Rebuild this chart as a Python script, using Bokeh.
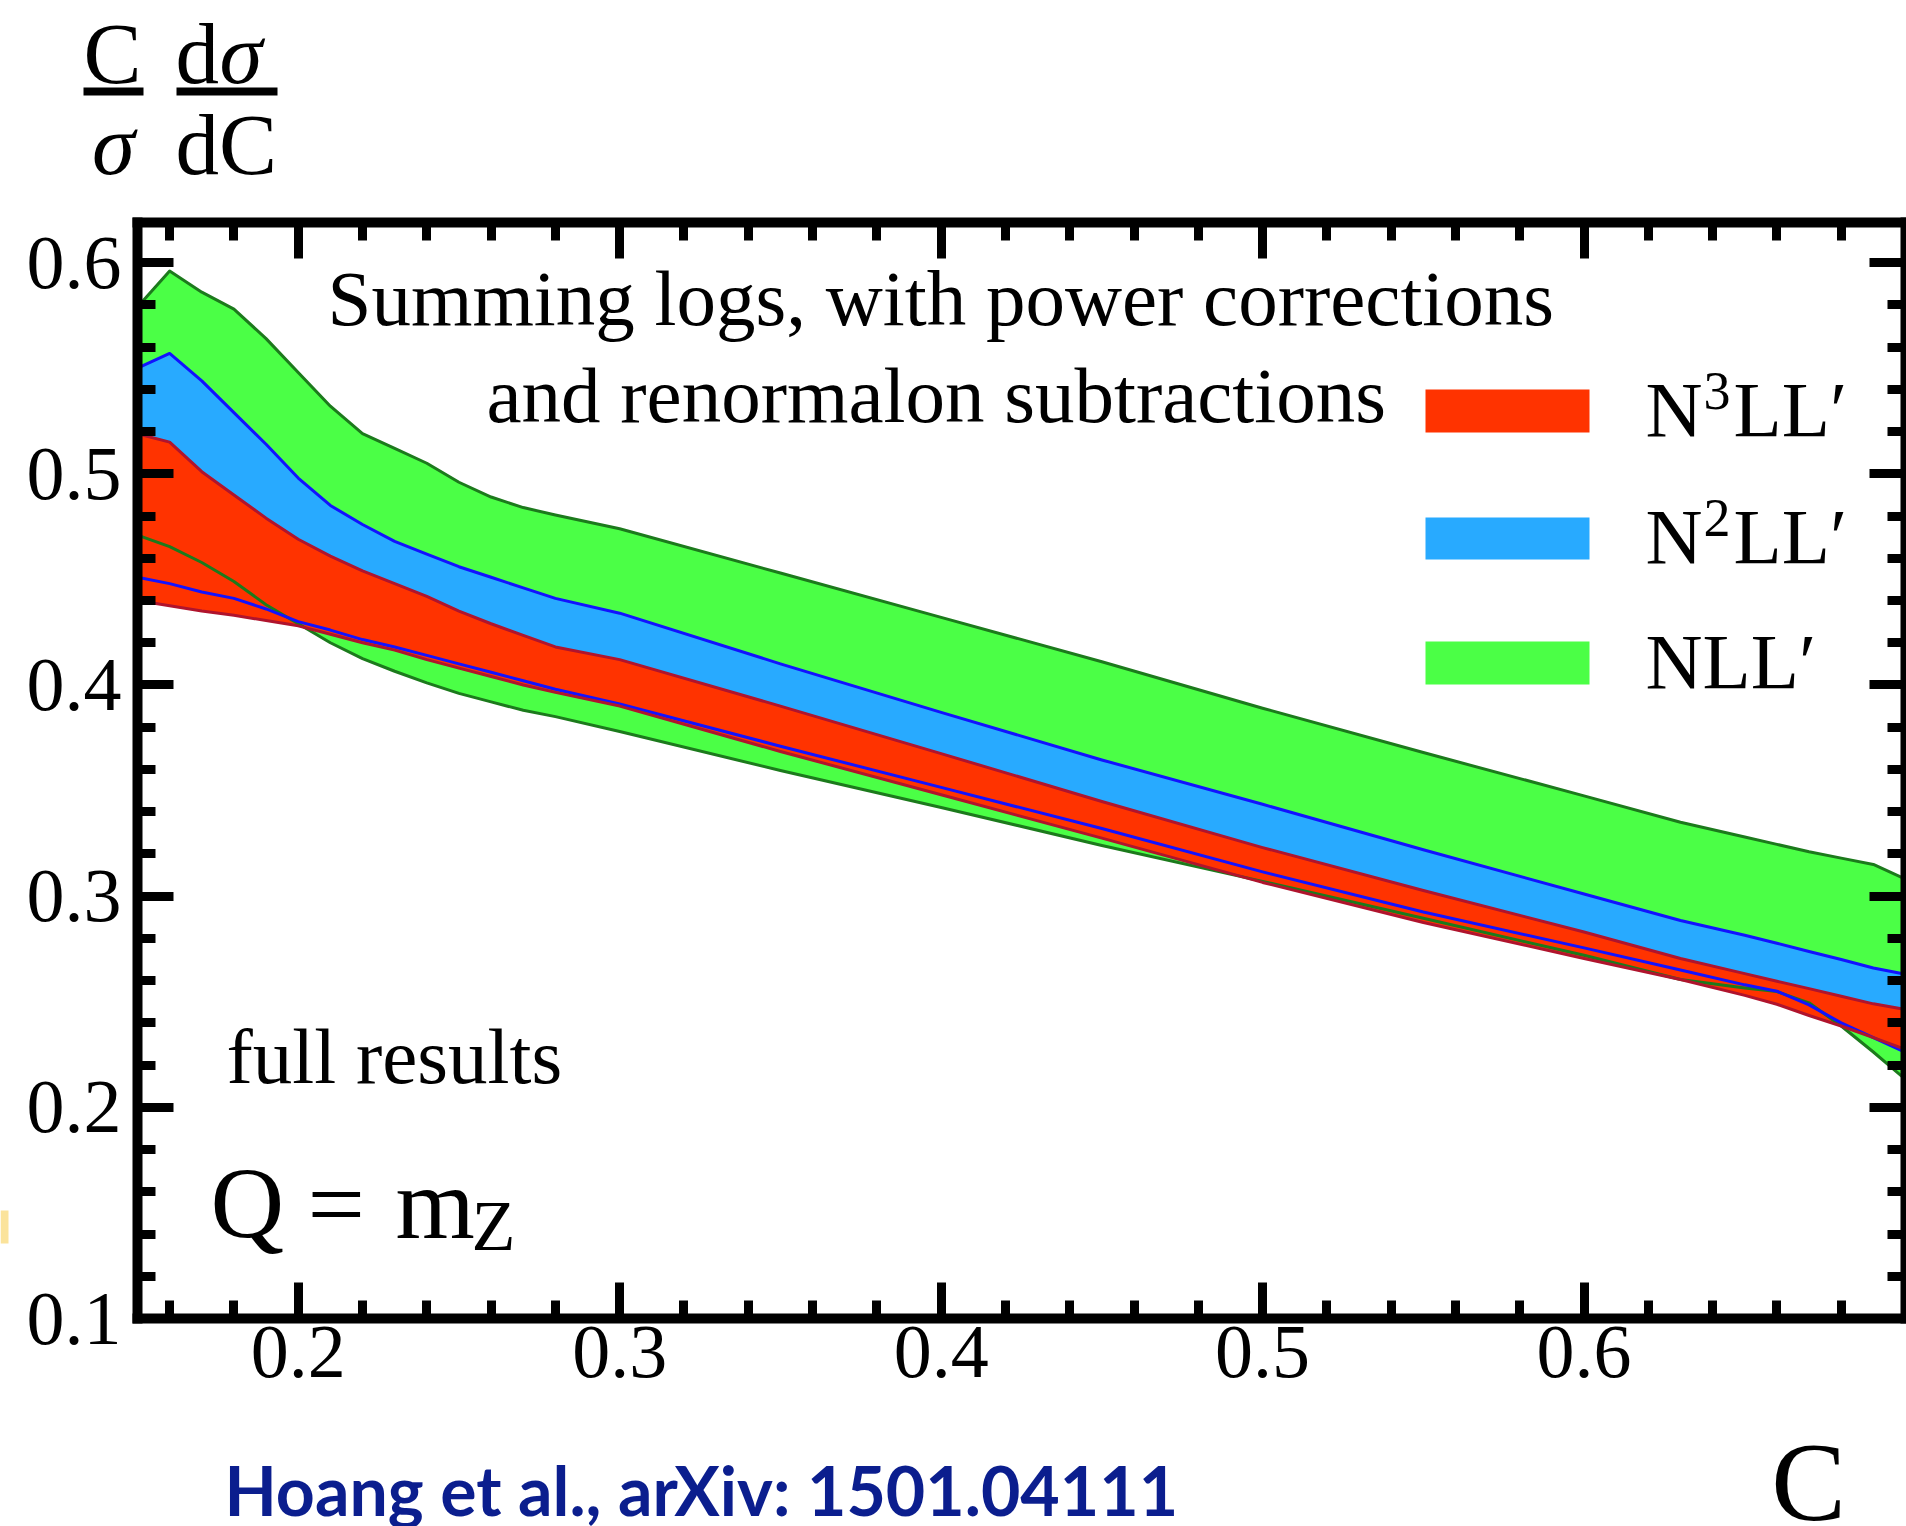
from bokeh.plotting import figure
from bokeh.models import LinearAxis, FixedTicker, Label, BoxAnnotation, Range1d
from bokeh.embed import file_html
from bokeh.resources import INLINE

# ---- data: C-parameter distribution bands (upper / lower edges) ----
c_vals = [0.15, 0.16, 0.17, 0.18, 0.19, 0.20, 0.21, 0.22, 0.23, 0.24, 0.25, 0.26, 0.27, 0.28,
          0.30, 0.35, 0.40, 0.45, 0.50, 0.55, 0.60, 0.63, 0.65, 0.66, 0.67, 0.68, 0.69, 0.70]

nll_hi = [0.579, 0.596, 0.586, 0.578, 0.564, 0.548, 0.532, 0.519, 0.512, 0.505, 0.496, 0.489, 0.484, 0.4805,
          0.474, 0.453, 0.432, 0.411, 0.389, 0.368, 0.3475, 0.335, 0.328, 0.3245, 0.321, 0.318, 0.315, 0.308]
nll_lo = [0.471, 0.4655, 0.458, 0.449, 0.438, 0.429, 0.420, 0.4125, 0.4065, 0.401, 0.396, 0.392, 0.388, 0.385,
          0.378, 0.3595, 0.342, 0.324, 0.307, 0.2895, 0.272, 0.2605, 0.2565, 0.2548, 0.2495, 0.2385, 0.2262, 0.2132]

n2ll_hi = [0.550, 0.557, 0.544, 0.529, 0.514, 0.498, 0.485, 0.476, 0.468, 0.462, 0.456, 0.451, 0.446, 0.441,
           0.434, 0.410, 0.387, 0.3645, 0.3435, 0.322, 0.301, 0.2885, 0.2815, 0.2777, 0.2738, 0.270, 0.266, 0.263]
n2ll_lo = [0.451, 0.448, 0.444, 0.441, 0.436, 0.430, 0.426, 0.4215, 0.418, 0.414, 0.410, 0.406, 0.402, 0.398,
           0.391, 0.371, 0.3515, 0.332, 0.3115, 0.2925, 0.2755, 0.265, 0.258, 0.255, 0.2485, 0.240, 0.233, 0.226]

n3ll_hi = [0.519, 0.515, 0.501, 0.490, 0.479, 0.469, 0.461, 0.454, 0.448, 0.442, 0.435, 0.429, 0.4235, 0.418,
           0.412, 0.390, 0.3675, 0.3448, 0.323, 0.3027, 0.283, 0.2705, 0.2633, 0.2597, 0.2562, 0.2526, 0.249, 0.2463]
n3ll_lo = [0.440, 0.4375, 0.435, 0.433, 0.4305, 0.428, 0.424, 0.420, 0.4165, 0.412, 0.408, 0.404, 0.400, 0.3965,
           0.390, 0.3685, 0.348, 0.3275, 0.3065, 0.2875, 0.2705, 0.2605, 0.253, 0.2488, 0.2435, 0.2385, 0.233, 0.2274]

# legend entries: base letters, order superscript, tail
band_labels = [("N", "3", "LL′"), ("N", "2", "LL′"), ("NLL′", "", "")]

# ---- axes ----
x_lim = (0.15, 0.70)
y_lim = (0.10, 0.619)
x_major = [0.2, 0.3, 0.4, 0.5, 0.6]
x_minor = [0.16, 0.18, 0.22, 0.24, 0.26, 0.28, 0.32, 0.34, 0.36, 0.38, 0.42, 0.44, 0.46, 0.48,
           0.52, 0.54, 0.56, 0.58, 0.62, 0.64, 0.66, 0.68]
y_major = [0.1, 0.2, 0.3, 0.4, 0.5, 0.6]
y_minor = [0.12, 0.14, 0.16, 0.18, 0.22, 0.24, 0.26, 0.28, 0.32, 0.34, 0.36, 0.38,
           0.42, 0.44, 0.46, 0.48, 0.52, 0.54, 0.56, 0.58]

# ---- colours / fonts ----
GREEN_FILL, GREEN_EDGE = "#4bff46", "#1c7a1c"
BLUE_FILL, BLUE_EDGE = "#28aaff", "#1212ff"
RED_FILL, RED_EDGE = "#ff3300", "#b0142d"
NAVY = "#0b1e8e"
SERIF = "Liberation Serif"
SANS = "Lato"
# text is placed by its vertical middle; these shift a wanted baseline to that middle
MID_SERIF = 0.3375
MID_SANS = 0.39

# ---- page geometry (pixels from the top-left corner) ----
W, H = 1906, 1526
BOX_L, BOX_R, BOX_T, BOX_B = 137, 1905, 222, 1318   # the drawn plot box

# the drawing area covers the whole page; the ranges are stretched so that the
# plot box lands on BOX_*, and the box itself is built from four pinned axes
kx = (x_lim[1] - x_lim[0]) / (BOX_R - BOX_L)
ky = (y_lim[1] - y_lim[0]) / (BOX_B - BOX_T)
x_range = Range1d(x_lim[0] - BOX_L * kx, x_lim[1] + (W - BOX_R) * kx)
y_range = Range1d(y_lim[0] - (H - BOX_B) * ky, y_lim[1] + BOX_T * ky)

p = figure(width=W, height=H, x_range=x_range, y_range=y_range, title=None,
           output_backend="svg", toolbar_location=None, x_axis_type=None, y_axis_type=None,
           min_border=0, min_border_left=0, min_border_right=0, min_border_top=0, min_border_bottom=0)
p.grid.visible = False
p.outline_line_color = None
p.background_fill_color = "white"
p.border_fill_color = "white"


def make_axis(location, bounds, ticks, minor, labels, standoff=0):
    ax = LinearAxis(fixed_location=location, bounds=bounds,
                    ticker=FixedTicker(ticks=ticks, minor_ticks=minor))
    ax.axis_line_width = 10
    ax.axis_line_color = "black"
    ax.axis_line_cap = "square"
    ax.major_tick_line_width = 9
    ax.minor_tick_line_width = 9
    ax.major_tick_line_color = "black"
    ax.minor_tick_line_color = "black"
    ax.major_tick_in = 36
    ax.major_tick_out = 0
    ax.minor_tick_in = 18
    ax.minor_tick_out = 0
    if labels:
        ax.major_label_text_font = SERIF
        ax.major_label_text_font_size = "76px"
        ax.major_label_text_color = "black"
        ax.major_label_standoff = standoff
    else:
        ax.major_label_text_font_size = "0px"
        ax.major_label_text_color = None
        ax.major_label_standoff = 0
    return ax


p.add_layout(make_axis(y_lim[0], x_lim, x_major, x_minor, True, 8), "below")
p.add_layout(make_axis(x_lim[0], y_lim, y_major, y_minor, True, 16), "left")
p.add_layout(make_axis(y_lim[1], x_lim, x_major, x_minor, False), "above")
p.add_layout(make_axis(x_lim[1], y_lim, y_major, y_minor, False), "right")

# ---- bands: fills first, then every edge on top ----
p.varea(x=c_vals, y1=nll_lo, y2=nll_hi, fill_color=GREEN_FILL)
p.varea(x=c_vals, y1=n2ll_lo, y2=n2ll_hi, fill_color=BLUE_FILL)
p.varea(x=c_vals, y1=n3ll_lo, y2=n3ll_hi, fill_color=RED_FILL)
for ys, col in [(nll_hi, GREEN_EDGE), (nll_lo, GREEN_EDGE),
                (n2ll_hi, BLUE_EDGE), (n2ll_lo, BLUE_EDGE),
                (n3ll_hi, RED_EDGE), (n3ll_lo, RED_EDGE)]:
    p.line(x=c_vals, y=ys, line_color=col, line_width=3, line_join="round")


# ---- annotations, placed in page pixels ----
def label(cx, base, s, size, align="left", style="normal", font=SERIF, color="black", mid=MID_SERIF):
    p.add_layout(Label(x=cx, y=H - (base - mid * size), x_units="screen", y_units="screen",
                       text=s, text_font=font, text_font_size=f"{size}px", text_align=align,
                       text_baseline="middle", text_font_style=style, text_color=color))


def box(x0, y0, x1, y1, color):
    p.add_layout(BoxAnnotation(left=x0, right=x1, top=H - y0, bottom=H - y1,
                               left_units="screen", right_units="screen",
                               top_units="screen", bottom_units="screen",
                               fill_color=color, fill_alpha=1.0, line_color=None))


# quantity on the vertical axis: (C/σ) dσ/dC
label(112, 82, "C", 87, align="center")
box(83, 87, 143, 95, "black")
label(113, 173, "σ", 87, align="center", style="italic")
label(175, 82, "d", 87)
label(219, 82, "σ", 87, style="italic")
box(176, 87, 277, 95, "black")
label(175, 173, "dC", 87)

# heading inside the box
label(327, 325, "Summing logs, with power corrections", 79)
label(486, 422, "and renormalon subtractions", 79)

# legend
swatch_rows = [(389, 432, RED_FILL, 436), (517, 559, BLUE_FILL, 563), (641, 684, GREEN_FILL, 688)]
for (y0, y1, col, base), (head, sup, tail) in zip(swatch_rows, band_labels):
    box(1425, y0, 1589, y1, col)
    label(1645, base, head, 79)
    if sup:
        label(1703, base - 27, sup, 54)
        label(1733, base, tail, 79)

# lower-left notes
label(226, 1083, "full results", 79)
label(210, 1237, "Q", 102)
label(307, 1237, "=", 102)
label(395, 1237, "m", 102)
label(471, 1250, "Z", 72)

# quantity on the horizontal axis
label(1808, 1519, "C", 112, align="center")

# reference line under the plot
label(224, 1516, "Hoang et al., arXiv: 1501.04111", 68, font=SANS, style="bold", color=NAVY, mid=MID_SANS)
box(0, 1210, 8, 1243, "#fbe39b")

open("out.html", "w").write(file_html(p, INLINE))
